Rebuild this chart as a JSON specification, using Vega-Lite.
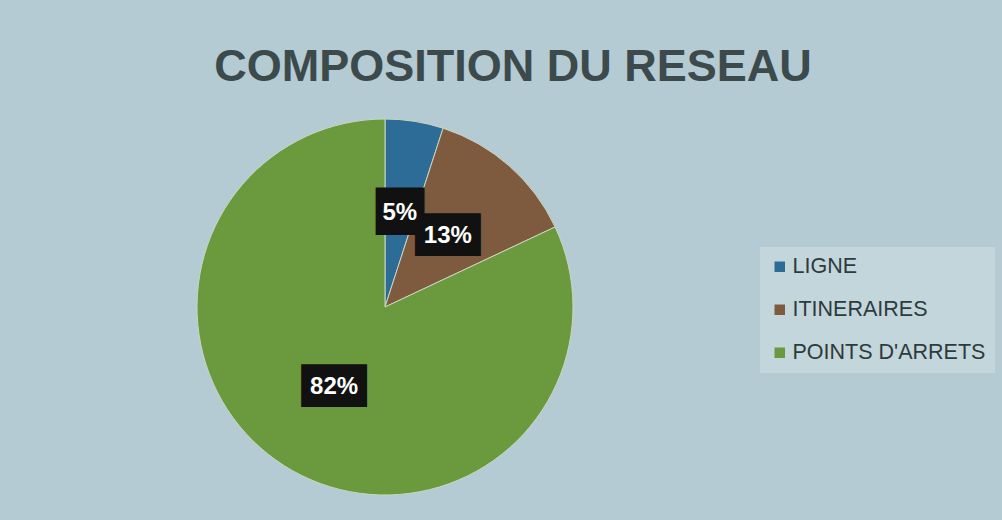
{
  "$schema": "https://vega.github.io/schema/vega-lite/v6.json",
  "autosize": "none",
  "width": 374,
  "height": 380,
  "padding": {"left": 198, "top": 117, "right": 430, "bottom": 23},
  "background": "#b4cbd3",
  "config": {"view": {"stroke": null}},
  "title": {
    "text": "COMPOSITION DU RESEAU",
    "font": "Liberation Sans",
    "fontSize": 45,
    "fontWeight": "bold",
    "color": "#3d4a4c",
    "anchor": "middle",
    "dx": 128,
    "offset": 27
  },
  "data": {
    "values": [
      {"categorie": "LIGNE", "pct": 5, "label": "5%"},
      {"categorie": "ITINERAIRES", "pct": 13, "label": "13%"},
      {"categorie": "POINTS D'ARRETS", "pct": 82, "label": "82%"}
    ]
  },
  "encoding": {
    "theta": {"field": "pct", "type": "quantitative", "stack": true},
    "order": {"field": "pct", "type": "quantitative", "sort": "ascending"}
  },
  "layer": [
    {
      "mark": {"type": "arc", "outerRadius": 188, "stroke": "#c9d6c2", "strokeWidth": 1},
      "encoding": {
        "color": {
          "field": "categorie",
          "type": "nominal",
          "scale": {
            "domain": ["LIGNE", "ITINERAIRES", "POINTS D'ARRETS"],
            "range": ["#2d6c96", "#7e5a3e", "#6b9a3e"]
          },
          "legend": {
            "title": null,
            "orient": "none",
            "legendX": 562,
            "legendY": 130,
            "padding": 9,
            "fillColor": "#c3d6dc",
            "strokeColor": null,
            "symbolType": "square",
            "symbolSize": 110,
            "symbolStrokeWidth": 0,
            "labelFont": "Liberation Sans",
            "labelFontSize": 21.5,
            "labelColor": "#2e3b3d",
            "labelOffset": 2,
            "rowPadding": 20,
            "labelLimit": 400
          }
        }
      }
    },
    {
      "mark": {"type": "text", "radius": 95, "font": "DejaVu Sans Mono", "color": "#111111", "baseline": "middle", "align": "center"},
      "encoding": {
        "text": {"condition": {"test": "datum.pct < 10", "value": "██"}, "value": "███"},
        "size": {"condition": {"test": "datum.pct < 10", "value": 40}, "value": 36}
      }
    },
    {
      "mark": {"type": "text", "radius": 95, "font": "Liberation Sans", "fontWeight": "bold", "fontSize": 24, "color": "#ffffff", "baseline": "middle", "align": "center"},
      "encoding": {
        "text": {"field": "label", "type": "nominal"}
      }
    }
  ]
}
